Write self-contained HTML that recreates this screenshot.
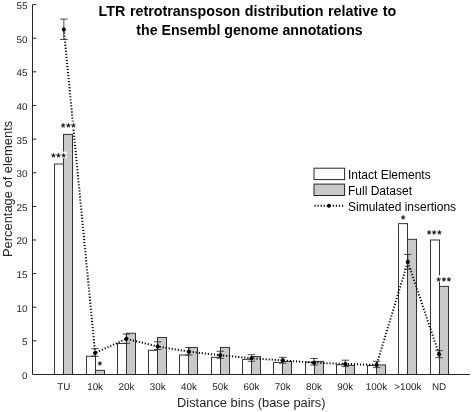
<!DOCTYPE html>
<html><head><meta charset="utf-8"><title>LTR retrotransposon distribution</title>
<style>html,body{margin:0;padding:0;background:#fff}svg{display:block}text{font-family:"Liberation Sans",Arial,Helvetica,sans-serif;fill:#262626}</style></head><body>
<svg width="472" height="412" viewBox="0 0 472 412">
<rect width="472" height="412" fill="#fff"/>
<text x="247.4" y="16.2" text-anchor="middle" font-size="14.3" font-weight="bold" word-spacing="0.6" style="fill:#000">LTR retrotransposon distribution relative to</text>
<text x="249.5" y="35.4" text-anchor="middle" font-size="14.15" font-weight="bold" style="fill:#000">the Ensembl genome annotations</text>
<rect x="54.50" y="163.99" width="9.00" height="210.51" fill="#fff" stroke="#333" stroke-width="1"/>
<rect x="63.50" y="134.40" width="9.00" height="240.10" fill="#c9c9c9" stroke="#333" stroke-width="1"/>
<rect x="86.50" y="356.21" width="9.00" height="18.29" fill="#fff" stroke="#333" stroke-width="1"/>
<rect x="95.50" y="370.33" width="9.00" height="4.17" fill="#c9c9c9" stroke="#333" stroke-width="1"/>
<rect x="117.50" y="343.56" width="9.00" height="30.94" fill="#fff" stroke="#333" stroke-width="1"/>
<rect x="126.50" y="333.27" width="9.00" height="41.23" fill="#c9c9c9" stroke="#333" stroke-width="1"/>
<rect x="148.50" y="350.29" width="9.00" height="24.21" fill="#fff" stroke="#333" stroke-width="1"/>
<rect x="157.50" y="337.51" width="9.00" height="36.99" fill="#c9c9c9" stroke="#333" stroke-width="1"/>
<rect x="179.50" y="355.00" width="9.00" height="19.50" fill="#fff" stroke="#333" stroke-width="1"/>
<rect x="188.50" y="347.60" width="9.00" height="26.90" fill="#c9c9c9" stroke="#333" stroke-width="1"/>
<rect x="211.50" y="357.35" width="9.00" height="17.15" fill="#fff" stroke="#333" stroke-width="1"/>
<rect x="220.50" y="347.46" width="9.00" height="27.04" fill="#c9c9c9" stroke="#333" stroke-width="1"/>
<rect x="242.50" y="359.37" width="9.00" height="15.13" fill="#fff" stroke="#333" stroke-width="1"/>
<rect x="251.50" y="356.48" width="9.00" height="18.02" fill="#c9c9c9" stroke="#333" stroke-width="1"/>
<rect x="273.50" y="362.39" width="9.00" height="12.11" fill="#fff" stroke="#333" stroke-width="1"/>
<rect x="282.50" y="361.39" width="9.00" height="13.11" fill="#c9c9c9" stroke="#333" stroke-width="1"/>
<rect x="305.50" y="362.19" width="9.00" height="12.31" fill="#fff" stroke="#333" stroke-width="1"/>
<rect x="314.50" y="361.39" width="9.00" height="13.11" fill="#c9c9c9" stroke="#333" stroke-width="1"/>
<rect x="336.50" y="364.75" width="9.00" height="9.75" fill="#fff" stroke="#333" stroke-width="1"/>
<rect x="345.50" y="365.42" width="9.00" height="9.08" fill="#c9c9c9" stroke="#333" stroke-width="1"/>
<rect x="367.50" y="365.56" width="9.00" height="8.94" fill="#fff" stroke="#333" stroke-width="1"/>
<rect x="376.50" y="364.95" width="9.00" height="9.55" fill="#c9c9c9" stroke="#333" stroke-width="1"/>
<rect x="398.50" y="223.65" width="9.00" height="150.85" fill="#fff" stroke="#333" stroke-width="1"/>
<rect x="407.50" y="239.32" width="9.00" height="135.18" fill="#c9c9c9" stroke="#333" stroke-width="1"/>
<rect x="430.50" y="239.99" width="9.00" height="134.51" fill="#fff" stroke="#333" stroke-width="1"/>
<rect x="439.50" y="286.40" width="9.00" height="88.10" fill="#c9c9c9" stroke="#333" stroke-width="1"/>
<path d="M32.5 4.6 V374.5 H470.0" fill="none" stroke="#262626" stroke-width="1"/>
<text x="27.5" y="378.90" text-anchor="end" font-size="9.85" style="text-rendering:geometricPrecision">0</text>
<path d="M32.5 340.87 h3.8" stroke="#262626" stroke-width="1"/>
<text x="27.5" y="345.27" text-anchor="end" font-size="9.85" style="text-rendering:geometricPrecision">5</text>
<path d="M32.5 307.25 h3.8" stroke="#262626" stroke-width="1"/>
<text x="27.5" y="311.65" text-anchor="end" font-size="9.85" style="text-rendering:geometricPrecision">10</text>
<path d="M32.5 273.62 h3.8" stroke="#262626" stroke-width="1"/>
<text x="27.5" y="278.02" text-anchor="end" font-size="9.85" style="text-rendering:geometricPrecision">15</text>
<path d="M32.5 239.99 h3.8" stroke="#262626" stroke-width="1"/>
<text x="27.5" y="244.39" text-anchor="end" font-size="9.85" style="text-rendering:geometricPrecision">20</text>
<path d="M32.5 206.36 h3.8" stroke="#262626" stroke-width="1"/>
<text x="27.5" y="210.76" text-anchor="end" font-size="9.85" style="text-rendering:geometricPrecision">25</text>
<path d="M32.5 172.74 h3.8" stroke="#262626" stroke-width="1"/>
<text x="27.5" y="177.14" text-anchor="end" font-size="9.85" style="text-rendering:geometricPrecision">30</text>
<path d="M32.5 139.11 h3.8" stroke="#262626" stroke-width="1"/>
<text x="27.5" y="143.51" text-anchor="end" font-size="9.85" style="text-rendering:geometricPrecision">35</text>
<path d="M32.5 105.48 h3.8" stroke="#262626" stroke-width="1"/>
<text x="27.5" y="109.88" text-anchor="end" font-size="9.85" style="text-rendering:geometricPrecision">40</text>
<path d="M32.5 71.85 h3.8" stroke="#262626" stroke-width="1"/>
<text x="27.5" y="76.25" text-anchor="end" font-size="9.85" style="text-rendering:geometricPrecision">45</text>
<path d="M32.5 38.23 h3.8" stroke="#262626" stroke-width="1"/>
<text x="27.5" y="42.63" text-anchor="end" font-size="9.85" style="text-rendering:geometricPrecision">50</text>
<path d="M32.5 4.60 h3.8" stroke="#262626" stroke-width="1"/>
<text x="27.5" y="9.00" text-anchor="end" font-size="9.85" style="text-rendering:geometricPrecision">55</text>
<text x="63.85" y="389.7" text-anchor="middle" font-size="9.85" style="text-rendering:geometricPrecision">TU</text>
<text x="95.12" y="389.7" text-anchor="middle" font-size="9.85" style="text-rendering:geometricPrecision">10k</text>
<text x="126.39" y="389.7" text-anchor="middle" font-size="9.85" style="text-rendering:geometricPrecision">20k</text>
<text x="157.66" y="389.7" text-anchor="middle" font-size="9.85" style="text-rendering:geometricPrecision">30k</text>
<text x="188.93" y="389.7" text-anchor="middle" font-size="9.85" style="text-rendering:geometricPrecision">40k</text>
<text x="220.20" y="389.7" text-anchor="middle" font-size="9.85" style="text-rendering:geometricPrecision">50k</text>
<text x="251.47" y="389.7" text-anchor="middle" font-size="9.85" style="text-rendering:geometricPrecision">60k</text>
<text x="282.74" y="389.7" text-anchor="middle" font-size="9.85" style="text-rendering:geometricPrecision">70k</text>
<text x="314.01" y="389.7" text-anchor="middle" font-size="9.85" style="text-rendering:geometricPrecision">80k</text>
<text x="345.28" y="389.7" text-anchor="middle" font-size="9.85" style="text-rendering:geometricPrecision">90k</text>
<text x="376.55" y="389.7" text-anchor="middle" font-size="9.85" style="text-rendering:geometricPrecision">100k</text>
<text x="407.82" y="389.7" text-anchor="middle" font-size="9.85" style="text-rendering:geometricPrecision">&gt;100k</text>
<text x="439.09" y="389.7" text-anchor="middle" font-size="9.85" style="text-rendering:geometricPrecision">ND</text>
<text x="251.3" y="406.6" text-anchor="middle" font-size="12.85">Distance bins (base pairs)</text>
<text transform="translate(11.5 188.9) rotate(-90)" text-anchor="middle" font-size="12.9">Percentage of elements</text>
<polyline points="63.85,29.48 95.12,352.98 126.39,338.86 157.66,346.39 188.93,351.63 220.20,355.20 251.47,358.22 282.74,360.38 314.01,362.66 345.28,363.94 376.55,364.88 407.82,261.78 439.09,354.32" fill="none" stroke="#000" stroke-width="2" stroke-dasharray="1.15 1.9"/>
<path d="M63.85 19.1 V39.5 M60.15 19.1 h7.4 M60.15 39.5 h7.4" stroke="#2a2a2a" stroke-width="0.85" fill="none"/>
<path d="M61.65 29.48 L62.64 27.73 L63.85 27.28 L65.06 27.73 L66.05 29.48 L65.06 31.24 L63.85 31.68 L62.64 31.24 Z" fill="#000"/>
<path d="M95.12 348.7 V356.3 M91.42 348.7 h7.4 M91.42 356.3 h7.4" stroke="#2a2a2a" stroke-width="0.85" fill="none"/>
<path d="M92.92 352.98 L93.91 351.22 L95.12 350.78 L96.33 351.22 L97.32 352.98 L96.33 354.73 L95.12 355.18 L93.91 354.73 Z" fill="#000"/>
<path d="M126.39 334.0 V343.3 M122.69 334.0 h7.4 M122.69 343.3 h7.4" stroke="#2a2a2a" stroke-width="0.85" fill="none"/>
<path d="M124.19 338.86 L125.18 337.10 L126.39 336.66 L127.60 337.10 L128.59 338.86 L127.60 340.61 L126.39 341.06 L125.18 340.61 Z" fill="#000"/>
<path d="M157.66 341.75 V349.5 M153.96 341.75 h7.4 M153.96 349.5 h7.4" stroke="#2a2a2a" stroke-width="0.85" fill="none"/>
<path d="M155.46 346.39 L156.45 344.63 L157.66 344.19 L158.87 344.63 L159.86 346.39 L158.87 348.14 L157.66 348.59 L156.45 348.14 Z" fill="#000"/>
<path d="M188.93 347.5 V355.0 M185.23 347.5 h7.4 M185.23 355.0 h7.4" stroke="#2a2a2a" stroke-width="0.85" fill="none"/>
<path d="M186.73 351.63 L187.72 349.88 L188.93 349.43 L190.14 349.88 L191.13 351.63 L190.14 353.39 L188.93 353.83 L187.72 353.39 Z" fill="#000"/>
<path d="M220.20 351.25 V358.25 M216.50 351.25 h7.4 M216.50 358.25 h7.4" stroke="#2a2a2a" stroke-width="0.85" fill="none"/>
<path d="M218.00 355.20 L218.99 353.44 L220.20 353.00 L221.41 353.44 L222.40 355.20 L221.41 356.95 L220.20 357.40 L218.99 356.95 Z" fill="#000"/>
<path d="M251.47 354.7 V361.3 M247.77 354.7 h7.4 M247.77 361.3 h7.4" stroke="#2a2a2a" stroke-width="0.85" fill="none"/>
<path d="M249.27 358.22 L250.26 356.47 L251.47 356.02 L252.68 356.47 L253.67 358.22 L252.68 359.98 L251.47 360.42 L250.26 359.98 Z" fill="#000"/>
<path d="M282.74 357.3 V363.2 M279.04 357.3 h7.4 M279.04 363.2 h7.4" stroke="#2a2a2a" stroke-width="0.85" fill="none"/>
<path d="M280.54 360.38 L281.53 358.62 L282.74 358.18 L283.95 358.62 L284.94 360.38 L283.95 362.13 L282.74 362.58 L281.53 362.13 Z" fill="#000"/>
<path d="M314.01 358.5 V365.0 M310.31 358.5 h7.4 M310.31 365.0 h7.4" stroke="#2a2a2a" stroke-width="0.85" fill="none"/>
<path d="M311.81 362.66 L312.80 360.91 L314.01 360.46 L315.22 360.91 L316.21 362.66 L315.22 364.42 L314.01 364.86 L312.80 364.42 Z" fill="#000"/>
<path d="M345.28 360.2 V366.6 M341.58 360.2 h7.4 M341.58 366.6 h7.4" stroke="#2a2a2a" stroke-width="0.85" fill="none"/>
<path d="M343.08 363.94 L344.07 362.19 L345.28 361.74 L346.49 362.19 L347.48 363.94 L346.49 365.70 L345.28 366.14 L344.07 365.70 Z" fill="#000"/>
<path d="M376.55 361.3 V367.6 M372.85 361.3 h7.4 M372.85 367.6 h7.4" stroke="#2a2a2a" stroke-width="0.85" fill="none"/>
<path d="M374.35 364.88 L375.34 363.13 L376.55 362.68 L377.76 363.13 L378.75 364.88 L377.76 366.64 L376.55 367.08 L375.34 366.64 Z" fill="#000"/>
<path d="M407.82 254.35 V269.2 M404.12 254.35 h7.4 M404.12 269.2 h7.4" stroke="#2a2a2a" stroke-width="0.85" fill="none"/>
<path d="M405.62 261.78 L406.61 260.03 L407.82 259.58 L409.03 260.03 L410.02 261.78 L409.03 263.54 L407.82 263.98 L406.61 263.54 Z" fill="#000"/>
<path d="M439.09 350.7 V357.7 M435.39 350.7 h7.4 M435.39 357.7 h7.4" stroke="#2a2a2a" stroke-width="0.85" fill="none"/>
<path d="M436.89 354.32 L437.88 352.57 L439.09 352.12 L440.30 352.57 L441.29 354.32 L440.30 356.08 L439.09 356.52 L437.88 356.08 Z" fill="#000"/>
<rect x="50.31" y="151.60" width="16.38" height="6.6" fill="#fff"/>
<text x="58.93" y="161.05" text-anchor="middle" font-size="11" letter-spacing="0.87" stroke="#000" stroke-width="0.28" style="fill:#000;text-rendering:geometricPrecision">***</text>
<rect x="60.11" y="121.60" width="16.38" height="6.6" fill="#fff"/>
<text x="68.73" y="131.05" text-anchor="middle" font-size="11" letter-spacing="0.87" stroke="#000" stroke-width="0.28" style="fill:#000;text-rendering:geometricPrecision">***</text>
<rect x="96.67" y="359.40" width="6.26" height="6.6" fill="#fff"/>
<text x="100.23" y="368.85" text-anchor="middle" font-size="11" letter-spacing="0.87" stroke="#000" stroke-width="0.28" style="fill:#000;text-rendering:geometricPrecision">*</text>
<rect x="400.07" y="213.60" width="6.26" height="6.6" fill="#fff"/>
<text x="403.63" y="223.05" text-anchor="middle" font-size="11" letter-spacing="0.87" stroke="#000" stroke-width="0.28" style="fill:#000;text-rendering:geometricPrecision">*</text>
<rect x="426.01" y="228.45" width="16.38" height="6.6" fill="#fff"/>
<text x="434.63" y="237.90" text-anchor="middle" font-size="11" letter-spacing="0.87" stroke="#000" stroke-width="0.28" style="fill:#000;text-rendering:geometricPrecision">***</text>
<rect x="435.61" y="275.30" width="16.38" height="6.6" fill="#fff"/>
<text x="444.23" y="284.75" text-anchor="middle" font-size="11" letter-spacing="0.87" stroke="#000" stroke-width="0.28" style="fill:#000;text-rendering:geometricPrecision">***</text>
<rect x="314" y="168.2" width="30.6" height="11.4" fill="#fff" stroke="#262626"/>
<rect x="314" y="184.1" width="30.6" height="11.4" fill="#c9c9c9" stroke="#262626"/>
<path d="M314.5 205.8 H343.5" stroke="#000" stroke-width="2" stroke-dasharray="1.15 1.9"/>
<path d="M326.90 205.80 L327.80 204.21 L328.90 203.80 L330.00 204.21 L330.90 205.80 L330.00 207.40 L328.90 207.80 L327.80 207.40 Z" fill="#000"/>
<text x="348" y="178.7" font-size="12" style="fill:#000">Intact Elements</text>
<text x="348" y="194.6" font-size="12" style="fill:#000">Full Dataset</text>
<text x="348" y="210.9" font-size="12" style="fill:#000">Simulated insertions</text>
</svg></body></html>
